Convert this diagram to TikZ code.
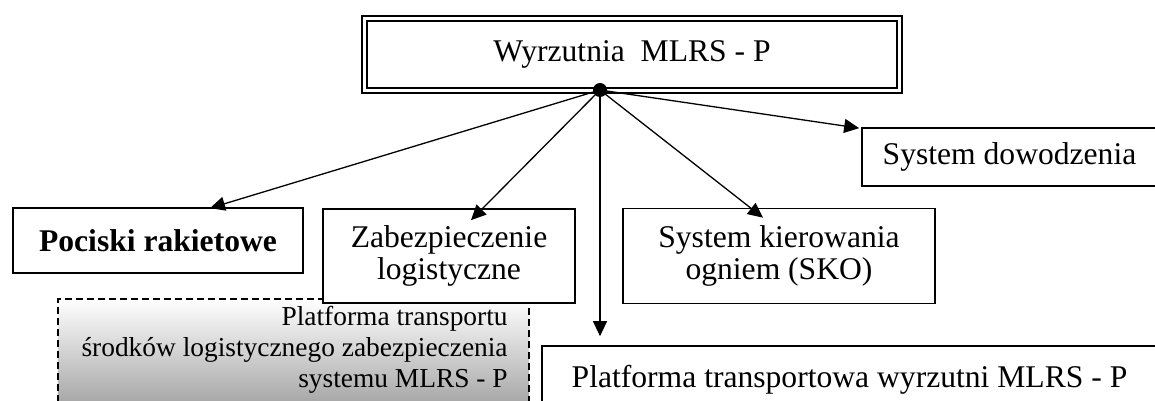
\documentclass[tikz,border=0pt]{standalone}
\usepackage{fontspec}
\setmainfont{Liberation Serif}
\usetikzlibrary{arrows.meta,calc}
\begin{document}
\begin{tikzpicture}[x=0.5pt,y=-0.5pt,
  every node/.style={font=\fontsize{15.8}{16}\selectfont},
  box/.style={draw, line width=0.85pt, fill=white, rectangle, inner sep=0pt, align=center},
  topbox/.style={draw, line width=1.2pt, fill=white, rectangle, inner sep=0pt},
  logbox/.style={draw, line width=0.75pt, dash pattern=on 3.5pt off 2pt,
    top color=white, bottom color=black!35, rectangle, inner sep=0pt},
  logtext/.style={font=\fontsize{13.7}{15.5}\selectfont, align=right, inner sep=0pt},
  hubdot/.style={circle, fill=black, inner sep=0pt, minimum size=7pt},
  arr/.style={line width=0.65pt, -{Triangle[length=7.5pt,width=7pt]}},
  ]
\useasboundingbox (0,0) rectangle (1155,401);
\clip (0,0) rectangle (1155,401);

% shaded, dashed logistics platform
\node[logbox, anchor=north west, minimum width=235.5pt, minimum height=53pt] (log) at (57,298) {};
\node[logtext, anchor=base east] (logtxt) at (508,387)
  {Platforma transportu\\środków logistycznego zabezpieczenia\\systemu MLRS - P};

% launcher (double frame)
\node[topbox, minimum width=270pt, minimum height=38.5pt] (top) at (632,54.5) {Wyrzutnia\ \ MLRS - P};
\draw[line width=0.75pt] ($(top.north west)+(6,6)$) rectangle ($(top.south east)+(-6,-6)$);

% subsystems
\node[box, minimum width=145pt, minimum height=32.5pt,
      font=\bfseries\fontsize{15.8}{16}\selectfont] (poc) at (158,240.5) {Pociski rakietowe};
\node[box, minimum width=126pt, minimum height=47pt] (zab) at (449,256) {Zabezpieczenie\\logistyczne};
\node[box, minimum width=156pt, minimum height=47.5pt] (sko) at (779,256) {System kierowania\\ogniem (SKO)};
\node[box, minimum width=147.5pt, minimum height=29pt] (dow) at (1009.5,157) {System dowodzenia};
\node[box, minimum width=307.5pt, minimum height=33.6pt] (plat) at (849.5,379.6) {Platforma transportowa wyrzutni MLRS - P};

% hub and connectors
\coordinate (hubc) at (600,90);
\draw[arr] (hubc) -- ($(poc.north)+(52,1)$);
\draw[arr] (hubc) -- ($(zab.north)+(22,12)$);
\draw[arr] (hubc) -- ($(hubc |- plat.north)+(0,-9)$);
\draw[arr] (hubc) -- ($(sko.north)+(-16,10)$);
\draw[arr] (hubc) -- ($(dow.north west)+(-2,1)$);
\node[hubdot] (hub) at (hubc) {};
\end{tikzpicture}
\end{document}
